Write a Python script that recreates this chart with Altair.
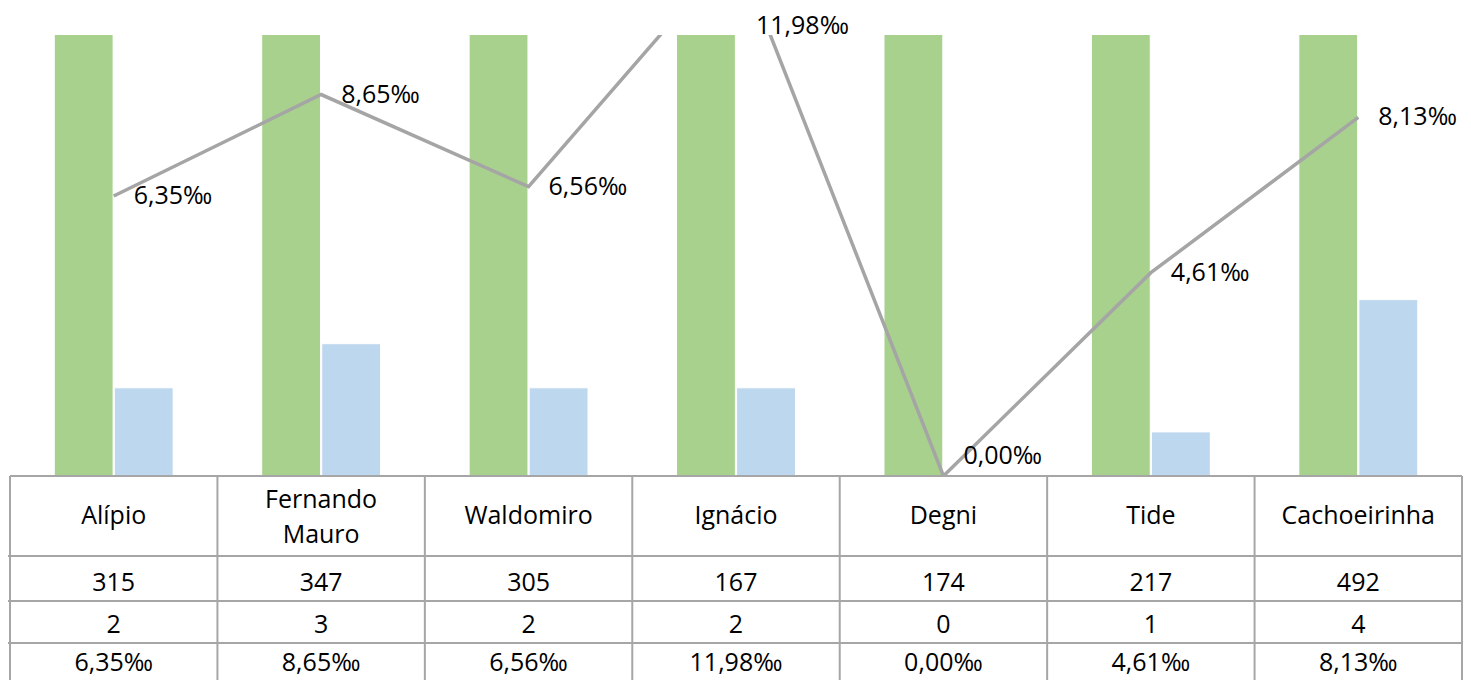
import altair as alt
import pandas as pd

categories = ["Alípio", "Fernando Mauro", "Waldomiro", "Ignácio", "Degni", "Tide", "Cachoeirinha"]
nascidos = [315, 347, 305, 167, 174, 217, 492]
obitos = [2, 3, 2, 2, 0, 1, 4]
taxa = [6.35, 8.65, 6.56, 11.98, 0.00, 4.61, 8.13]
series = ["Nascidos vivos", "Óbitos"]
colors = ["#A9D18E", "#BDD7EE"]

W = 1452
H = 441
FONT = "Open Sans"
GRID = "#A6A6A6"

wide = pd.DataFrame({"cat": categories, "nascidos": nascidos, "obitos": obitos, "taxa": taxa})
bars_df = pd.DataFrame({
    "cat": categories * 2,
    "serie": [series[0]] * len(categories) + [series[1]] * len(categories),
    "valor": nascidos + obitos,
})

xscale = alt.Scale(type="band", domain=categories, paddingInner=0, paddingOuter=0)
yscale = alt.Scale(domain=[0, 10], nice=False, zero=True)

bars = alt.Chart(bars_df).mark_bar(clip=True, stroke="white", strokeWidth=1).encode(
    x=alt.X("cat:N", scale=xscale, axis=None, sort=categories),
    xOffset=alt.XOffset("serie:N", scale=alt.Scale(domain=series, paddingOuter=0.737, paddingInner=0.02)),
    y=alt.Y("valor:Q", scale=yscale, axis=None),
    color=alt.Color("serie:N", scale=alt.Scale(domain=series, range=colors), legend=None),
)

base = alt.Chart(wide).transform_calculate(
    lbl="replace(format(datum.taxa, '.2f'), '.', ',') + '‰'",
    ly="clamp(datum.taxa, 0.45, 10.2)",
    hdr="split(datum.cat, ' ')",
    nwords="length(split(datum.cat, ' '))",
)

line = base.mark_line(clip=True, color="#A5A5A5", strokeWidth=3.5).encode(
    x=alt.X("cat:N", scale=xscale, axis=None, sort=categories, bandPosition=0.5),
    y=alt.Y("taxa:Q", scale=yscale, axis=None),
)

labels = base.mark_text(align="left", baseline="middle", dx=20, dy=0, fontSize=25,
                        font=FONT, color="black", clip=False).encode(
    x=alt.X("cat:N", scale=xscale, axis=None, sort=categories, bandPosition=0.5),
    y=alt.Y("ly:Q", scale=yscale, axis=None),
    text=alt.Text("lbl:N"),
)

# data table below the plot
def row_text(src, field, ypix):
    return src.mark_text(align="center", baseline="middle", fontSize=25, font=FONT,
                         color="black", lineHeight=35, clip=False).encode(
        x=alt.X("cat:N", scale=xscale, axis=None, sort=categories, bandPosition=0.5),
        y=alt.value(ypix),
        text=alt.Text(field),
    )

hdr1 = row_text(base.transform_filter("datum.nwords == 1"), "hdr:N", H + 40)
hdr2 = row_text(base.transform_filter("datum.nwords > 1"), "hdr:N", H + 24)
r1 = row_text(base, "nascidos:Q", H + 107)
r2 = row_text(base, "obitos:Q", H + 149)
r3 = row_text(base, "lbl:N", H + 187)

vlines = base.mark_rule(color=GRID, strokeWidth=2, clip=False).encode(
    x=alt.X("cat:N", scale=xscale, axis=None, sort=categories, bandPosition=0),
    y=alt.value(H),
    y2=alt.value(H + 240),
)
rborder = base.mark_rule(color=GRID, strokeWidth=2, clip=False).encode(
    x=alt.value(W), y=alt.value(H), y2=alt.value(H + 240)
)
top_line = base.mark_rule(color=GRID, strokeWidth=2, clip=False).encode(
    x=alt.value(0), x2=alt.value(W), y=alt.value(H)
)
hlines = [
    base.mark_rule(color=GRID, strokeWidth=2, clip=False).encode(
        x=alt.value(-10), x2=alt.value(W), y=alt.value(H + off)
    )
    for off in (80, 125, 167)
]

chart = alt.layer(
    bars, line, labels, hdr1, hdr2, r1, r2, r3, vlines, rborder, top_line, *hlines
).properties(
    width=W,
    height=H,
    padding={"left": 2, "top": 27, "right": 1, "bottom": 204},
    autosize=alt.AutoSizeParams(type="none"),
    background="white",
).configure_view(stroke=None)

chart.save("out.html", embed_options={"renderer": "svg", "actions": False})
